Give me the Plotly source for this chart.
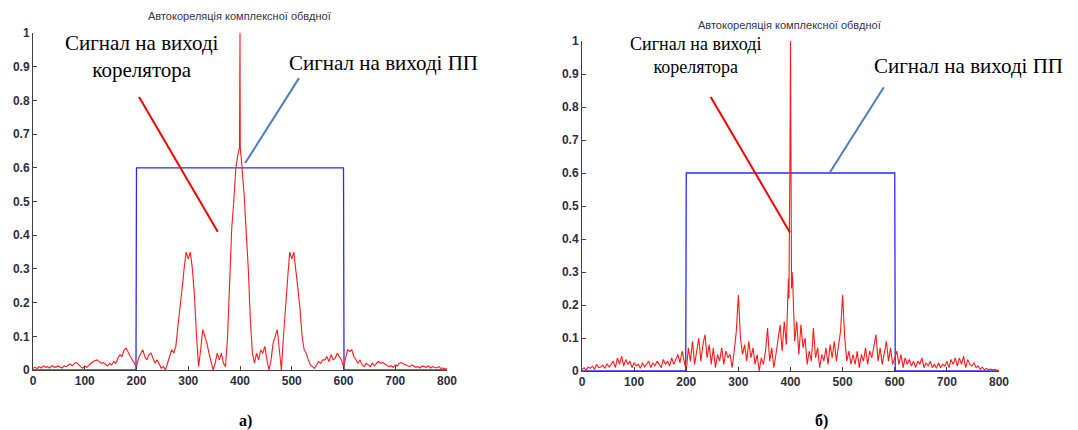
import plotly.graph_objects as go

W, H = 1078, 430

# ---------------- data ----------------
title_text = "Автокореляція комплексної обвдної"

# blue: signal at output of the shaping filter (ПП)
pp_x = [0, 199, 199.5, 200, 600, 600.5, 601, 800]
pp_y = [0, 0, 0.3, 0.6, 0.6, 0.3, 0, 0]

# red (a): correlator output, samples every 4 points
a_step_x = list(range(0, 801, 4))
a_left = [
    0.005, 0.008, 0.004, 0.01, 0.006, 0.012, 0.008, 0.01, 0.006, 0.012,
    0.01, 0.008, 0.012, 0.01, 0.006, 0.012, 0.01, 0.014, 0.018, 0.012,
    0.02, 0.022, 0.015, 0.01, 0.005, 0.012, 0.008, 0.015, 0.02, 0.025,
    0.028, 0.03, 0.025, 0.02, 0.022, 0.018, 0.012, 0.02, 0.015, 0.025,
    0.02, 0.035, 0.045, 0.04, 0.06, 0.065, 0.05, 0.04, 0.03, 0.02,
    0.01, 0.035, 0.05, 0.06, 0.04, 0.03, 0.045, 0.05, 0.035, 0.02,
    0.03, 0.015, 0.005, 0.01, 0.0, 0.02, 0.04, 0.06, 0.05, 0.07,
    0.13, 0.18, 0.24, 0.3, 0.35, 0.33, 0.35, 0.3, 0.22, 0.1,
    0.01, 0.06, 0.12, 0.1, 0.08, 0.05, 0.02, 0.0, 0.02, 0.05,
    0.03, 0.05, 0.02, 0.01, 0.1, 0.28, 0.42, 0.5, 0.6, 0.64,
]
a_mid = [1.0]
a_right = [
    0.6, 0.52, 0.42, 0.3, 0.15, 0.05, 0.02, 0.05, 0.03, 0.06,
    0.05, 0.07, 0.03, 0.0, 0.03, 0.08, 0.1, 0.12, 0.06, 0.0,
    0.1, 0.2, 0.27, 0.35, 0.33, 0.35, 0.3, 0.24, 0.18, 0.1,
    0.06, 0.05, 0.03, 0.015, 0.01, 0.005, 0.015, 0.025, 0.02, 0.03,
    0.03, 0.04, 0.025, 0.045, 0.03, 0.035, 0.05, 0.04, 0.03, 0.01,
    0.04, 0.06, 0.055, 0.06, 0.04, 0.03, 0.02, 0.03, 0.015, 0.01,
    0.02, 0.015, 0.01, 0.02, 0.012, 0.02, 0.025, 0.02, 0.022, 0.018,
    0.015, 0.01, 0.012, 0.008, 0.015, 0.012, 0.02, 0.022, 0.018, 0.015,
    0.012, 0.01, 0.015, 0.012, 0.008, 0.01, 0.006, 0.012, 0.01, 0.008,
    0.012, 0.006, 0.01, 0.008, 0.006, 0.01, 0.005, 0.006, 0.004, 0.003,
]
a_center_x = [398, 399, 399.5, 400.5, 402]
a_center_y = [0.66, 0.66, 0.83, 0.66, 0.64]

# red (б): correlator output, samples every 4 points
b_step_x = list(range(0, 801, 4))
b_left = [
    0.005, 0.01, 0.003, 0.012, 0.008, 0.015, 0.005, 0.02, 0.01, 0.012,
    0.018, 0.008, 0.022, 0.012, 0.02, 0.03, 0.01, 0.04, 0.02, 0.045,
    0.015, 0.035, 0.02, 0.03, 0.01, 0.025, 0.015, 0.02, 0.008, 0.025,
    0.012, 0.02, 0.03, 0.01, 0.025, 0.015, 0.03, 0.02, 0.01, 0.035,
    0.02, 0.03, 0.015, 0.04, 0.02, 0.035, 0.05, 0.025, 0.06, 0.03,
    0.0, 0.07, 0.03, 0.09, 0.02, 0.06, 0.1, 0.03, 0.08, 0.11,
    0.04, 0.08, 0.02, 0.07, 0.01, 0.05, 0.03, 0.07, 0.02, 0.06,
    0.04, 0.05, 0.01, 0.06, 0.12, 0.23, 0.1, 0.05, 0.08, 0.03,
    0.09, 0.04, 0.07, 0.02, 0.05, 0.0, 0.04, 0.02, 0.06, 0.13,
    0.03, 0.07, 0.01, 0.05, 0.1, 0.14, 0.06, 0.15, 0.08, 0.28,
]
b_mid = [1.0]
b_right = [
    0.28, 0.09, 0.15, 0.05, 0.14, 0.07, 0.1, 0.02, 0.06, 0.03,
    0.13, 0.04, 0.07, 0.01, 0.05, 0.03, 0.07, 0.02, 0.08, 0.04,
    0.09, 0.03, 0.08, 0.12, 0.23, 0.1, 0.03, 0.06, 0.02, 0.05,
    0.02, 0.06, 0.01, 0.05, 0.03, 0.07, 0.02, 0.06, 0.04, 0.08,
    0.11, 0.03, 0.07, 0.02, 0.06, 0.09, 0.03, 0.07, 0.02, 0.04,
    0.06, 0.02, 0.05, 0.01, 0.04, 0.02, 0.035, 0.015, 0.03, 0.01,
    0.03, 0.02, 0.04, 0.01, 0.025, 0.015, 0.03, 0.01, 0.02, 0.008,
    0.025, 0.01, 0.02, 0.015, 0.03, 0.01, 0.035, 0.02, 0.04, 0.015,
    0.04, 0.02, 0.045, 0.01, 0.035, 0.02, 0.015, 0.025, 0.01, 0.015,
    0.005, 0.012, 0.003, 0.008, 0.004, 0.006, 0.003, 0.005, 0.002, 0.002,
]
b_center_x = [397, 398, 399, 401, 402, 403]
b_center_y = [0.22, 0.38, 0.67, 0.38, 0.25, 0.3]

x_ticks = [0, 100, 200, 300, 400, 500, 600, 700, 800]
y_ticks = [0, 0.1, 0.2, 0.3, 0.4, 0.5, 0.6, 0.7, 0.8, 0.9, 1]
y_tick_text = ["0", "0.1", "0.2", "0.3", "0.4", "0.5", "0.6", "0.7", "0.8", "0.9", "1"]

label_corr = "Сигнал на виході<br>корелятора"
label_pp = "Сигнал на виході ПП"
captions = ["а)", "б)"]


def merge(step_x, yl, ym, yr, cx, cy):
    ys = yl + ym + yr
    pts = list(zip(step_x, ys)) + list(zip(cx, cy))
    pts.sort(key=lambda p: p[0])
    return [p[0] for p in pts], [p[1] for p in pts]


ax_x, ax_y = merge(a_step_x, a_left, a_mid, a_right, a_center_x, a_center_y)
bx_x, bx_y = merge(b_step_x, b_left, b_mid, b_right, b_center_x, b_center_y)

# ---------------- figure ----------------
fig = go.Figure()

RED = "#ff1a1a"
BLUE = "#2a2aff"

fig.add_trace(go.Scatter(x=pp_x, y=pp_y, mode="lines", line=dict(color=BLUE, width=1.3),
                         xaxis="x", yaxis="y", showlegend=False, hoverinfo="skip"))
fig.add_trace(go.Scatter(x=ax_x, y=ax_y, mode="lines", line=dict(color=RED, width=1.1),
                         xaxis="x", yaxis="y", showlegend=False))
fig.add_trace(go.Scatter(x=pp_x, y=pp_y, mode="lines", line=dict(color=BLUE, width=1.3),
                         xaxis="x2", yaxis="y2", showlegend=False, hoverinfo="skip"))
fig.add_trace(go.Scatter(x=bx_x, y=bx_y, mode="lines", line=dict(color=RED, width=1.1),
                         xaxis="x2", yaxis="y2", showlegend=False))


def px_x(p):
    return p / W


def px_y(p):
    return 1 - p / H


SANS = "Liberation Sans"
SERIF = "Liberation Serif"

tick_font = dict(family=SANS, size=12, color="#2e2e40", weight="bold")
axis_common = dict(
    showgrid=False, zeroline=False, showline=True, linecolor="#404040", linewidth=1,
    ticks="inside", ticklen=4, tickcolor="#404040", tickfont=tick_font, mirror=False,
    automargin=False,
)

fig.update_layout(
    template="none",
    width=W, height=H,
    margin=dict(l=0, r=0, t=0, b=0),
    paper_bgcolor="white", plot_bgcolor="white",
    xaxis=dict(domain=[px_x(33), px_x(447)], range=[0, 800], tickvals=x_ticks, anchor="y",
               **axis_common),
    yaxis=dict(domain=[px_y(370), px_y(33)], range=[0, 1], tickvals=y_ticks, ticktext=y_tick_text,
               anchor="x", **axis_common),
    xaxis2=dict(domain=[px_x(582), px_x(999)], range=[0, 800], tickvals=x_ticks, anchor="y2",
                **axis_common),
    yaxis2=dict(domain=[px_y(371), px_y(41)], range=[0, 1], tickvals=y_ticks, ticktext=y_tick_text,
                anchor="x2", **axis_common),
)


def label(xp, yp, text, family, size, color="black"):
    return dict(x=px_x(xp), y=px_y(yp), text=text, showarrow=False, xref="paper", yref="paper",
                xanchor="center", yanchor="middle", align="center",
                font=dict(family=family, size=size, color=color))


ann = [
    label(239, 16, title_text, SANS, 11, "#33334a"),
    label(789, 25, title_text, SANS, 11, "#33334a"),
    label(142, 57, label_corr, SERIF, 21),
    label(383, 63, label_pp, SERIF, 21),
    label(696, 55, label_corr, SERIF, 18),
    label(968, 66, label_pp, SERIF, 21),
    label(245, 421, "<b>" + captions[0] + "</b>", SERIF, 16),
    label(821, 421, "<b>" + captions[1] + "</b>", SERIF, 16),
]
fig.update_layout(annotations=ann)

# leader lines (in axis coordinates)
shapes = [
    dict(type="line", xref="x", yref="y", x0=205, y0=0.81, x1=357, y1=0.41,
         line=dict(color="#ee0000", width=2)),
    dict(type="line", xref="x", yref="y", x0=514, y0=0.866, x1=410, y1=0.614,
         line=dict(color="#4a7ebb", width=2)),
    dict(type="line", xref="x2", yref="y2", x0=247, y0=0.83, x1=399, y1=0.42,
         line=dict(color="#ee0000", width=2)),
    dict(type="line", xref="x2", yref="y2", x0=579, y0=0.86, x1=476, y1=0.603,
         line=dict(color="#4a7ebb", width=2)),
]
fig.update_layout(shapes=shapes)

fig.write_html("out.html")
